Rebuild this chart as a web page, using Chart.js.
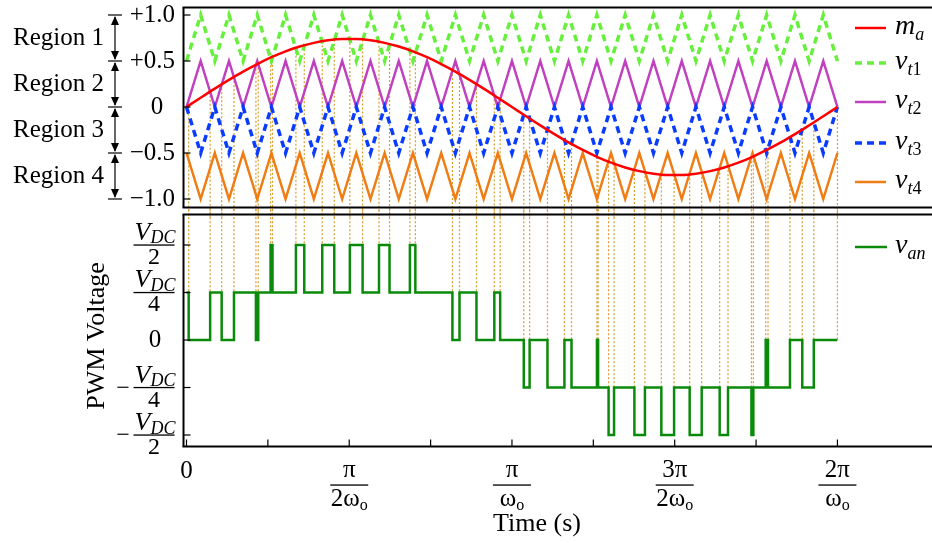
<!DOCTYPE html>
<html>
<head>
<meta charset="utf-8">
<script src="https://cdn.jsdelivr.net/npm/chart.js@4.4.0/dist/chart.umd.min.js"></script>
<style>
html, body { margin: 0; padding: 0; background: #fff; overflow: hidden; }
#wrap { position: relative; width: 932px; height: 543px; }
canvas { position: absolute; left: 0; top: 0; }
</style>
</head>
<body>
<div id="wrap">
  <canvas id="top" width="932" height="543"></canvas>
  <canvas id="bot" width="932" height="543"></canvas>
</div>
<script>
// Level-shifted carrier PWM: reference m_a, four carriers and the phase voltage v_an
// time axis in degrees of the fundamental (360 = 2π/ωo)

// carrier vertex instants (23 carrier cycles per fundamental period)
const carrierDeg = [0, 7.83, 15.65, 23.48, 31.30, 39.13, 46.96, 54.78, 62.61, 70.43, 78.26, 86.09,
  93.91, 101.74, 109.57, 117.39, 125.22, 133.04, 140.87, 148.70, 156.52, 164.35, 172.17, 180,
  187.83, 195.65, 203.48, 211.30, 219.13, 226.96, 234.78, 242.61, 250.43, 258.26, 266.09, 273.91,
  281.74, 289.57, 297.39, 305.22, 313.04, 320.87, 328.70, 336.52, 344.35, 352.17, 360];

// reference m_a read at the same instants
const ma = [0, 0.101, 0.200, 0.295, 0.385, 0.467, 0.541, 0.605, 0.657, 0.697, 0.725, 0.738,
  0.738, 0.725, 0.697, 0.657, 0.605, 0.541, 0.467, 0.385, 0.295, 0.200, 0.101, 0,
  -0.101, -0.200, -0.295, -0.385, -0.467, -0.541, -0.605, -0.657, -0.697, -0.725, -0.738,
  -0.738, -0.725, -0.697, -0.657, -0.605, -0.541, -0.467, -0.385, -0.295, -0.200, -0.101, 0];

// carrier levels at even / odd vertices
const vt1 = [0.5, 1.0];
const vt2 = [0, 0.5];
const vt3 = [0, -0.5];
const vt4 = [-0.5, -1.0];

// switching instants, output level after each (units of V_DC/4), and m_a at the crossing
const switchDeg = [0, 1.2, 13.07, 19.45, 26.26, 38.39, 39.67, 46.50, 47.56, 60.51, 65.13, 75.07,
  81.72, 90.34, 97.39, 106.46, 112.29, 123.54, 126.56, 147.07, 150.99, 160.36, 170.24, 173.47,
  186.53, 189.76, 199.64, 209.01, 212.93, 226.99, 227.64, 233.44, 236.46, 247.71, 253.54, 262.61,
  269.66, 278.28, 284.93, 294.87, 299.49, 312.44, 313.50, 320.33, 321.61, 333.74, 340.55, 346.93, 360];
const vanLevel = [1, 0, 1, 0, 1, 0, 1, 2, 1, 2, 1, 2, 1, 2, 1, 2, 1, 2, 1, 0, 1, 0, 1, 0,
  -1, 0, -1, 0, -1, 0, -1, -2, -1, -2, -1, -2, -1, -2, -1, -2, -1, -2, -1, 0, -1, 0, -1, 0, 0];
const switchTop = [null, 0.015, 0.167, 0.246, 0.327, 0.459, 0.472, 0.537, 0.546, 0.644, 0.671, 0.715,
  0.732, 0.740, 0.734, 0.710, 0.685, 0.616, 0.594, 0.402, 0.359, 0.248, 0.126, 0.084,
  -0.084, -0.126, -0.248, -0.359, -0.402, -0.541, -0.546, -0.594, -0.616, -0.684, -0.710, -0.734,
  -0.740, -0.732, -0.715, -0.671, -0.644, -0.546, -0.537, -0.472, -0.459, -0.327, -0.246, -0.167, 0];

// axis ticks
const topTickValues = [1, 0.5, 0, -0.5, -1];
const topTickLabels = ['+1.0', '+0.5', '0', '\u22120.5', '\u22121.0'];
const regionLabels = ['Region 1', 'Region 2', 'Region 3', 'Region 4'];
const vanTickValues = [2, 1, 0, -1, -2];
const vanTickDen = ['2', '4', null, '4', '2'];
const xTickValues = [0, 45, 90, 135, 180, 225, 270, 315, 360];
const xLabelValues = [90, 180, 270, 360];
const xLabelNum = ['\u03c0', '\u03c0', '3\u03c0', '2\u03c0'];
const xLabelDen = ['2\u03c9', '\u03c9', '2\u03c9', '\u03c9'];

const SERIF = '"Liberation Serif", "Times New Roman", serif';
const f = (size, italic) => (italic ? 'italic ' : '') + size + 'px ' + SERIF;

const X_MIN = -1.66, X_MAX = 412.3;

function drawRuns(ctx, parts, x, y, align) {
  let w = 0;
  parts.forEach(p => { ctx.font = p[1]; w += ctx.measureText(p[0]).width; });
  let cx = align === 'center' ? x - w / 2 : align === 'right' ? x - w : x;
  ctx.textAlign = 'left';
  parts.forEach(p => {
    ctx.font = p[1];
    ctx.fillText(p[0], cx, y + (p[2] || 0));
    cx += ctx.measureText(p[0]).width;
  });
}

function hline(ctx, x0, x1, y) { ctx.beginPath(); ctx.moveTo(x0, y); ctx.lineTo(x1, y); ctx.stroke(); }
function vline(ctx, x, y0, y1) { ctx.beginPath(); ctx.moveTo(x, y0); ctx.lineTo(x, y1); ctx.stroke(); }

function legendLine(ctx, x0, x1, y, color, width, dash) {
  ctx.save();
  ctx.strokeStyle = color; ctx.lineWidth = width; ctx.setLineDash(dash || []);
  hline(ctx, x0, x1, y);
  ctx.restore();
}

function arrowHead(ctx, x, tip, dir) {
  ctx.beginPath();
  ctx.moveTo(x, tip);
  ctx.lineTo(x - 4, tip - dir * 9);
  ctx.lineTo(x + 4, tip - dir * 9);
  ctx.closePath();
  ctx.fill();
}

const topDecor = {
  id: 'topDecor',
  afterDatasetsDraw(chart) {
    const { ctx, chartArea: a, scales: { y } } = chart;
    ctx.save();
    ctx.strokeStyle = '#000'; ctx.fillStyle = '#000';
    ctx.lineWidth = 2;
    hline(ctx, a.left - 1, a.right, a.top);
    hline(ctx, a.left - 1, a.right, a.bottom);
    vline(ctx, a.left, a.top, a.bottom);
    ctx.lineWidth = 1.2;
    topTickValues.forEach(v => { const py = y.getPixelForValue(v); hline(ctx, a.left, a.left + 7, py); });

    // tick labels
    ctx.textBaseline = 'middle';
    topTickValues.forEach((v, i) => {
      const py = y.getPixelForValue(v);
      ctx.font = f(25);
      if (v === 0) { ctx.textAlign = 'center'; ctx.fillText(topTickLabels[i], 157, py); }
      else { ctx.textAlign = 'right'; ctx.fillText(topTickLabels[i], 175, py); }
    });

    // region brackets
    const bx = 115;
    const b = topTickValues.map(v => y.getPixelForValue(v));
    ctx.lineWidth = 1.2;
    b.forEach(py => hline(ctx, bx - 7, bx + 7, py));
    for (let i = 0; i < 4; i++) {
      vline(ctx, bx, b[i] + 2, b[i + 1] - 2);
      arrowHead(ctx, bx, b[i] + 1, -1);
      arrowHead(ctx, bx, b[i + 1] - 1, 1);
      ctx.font = f(25); ctx.textAlign = 'right'; ctx.textBaseline = 'middle';
      ctx.fillText(regionLabels[i], 104, (b[i] + b[i + 1]) / 2);
    }

    // legend
    ctx.textBaseline = 'alphabetic';
    const lx0 = 855, lx1 = 886, tx = 895;
    const entries = [
      { y: 28, color: '#ff0000', width: 2.5, dash: null, sub: [['a', f(18, true), 6]], main: 'm' },
      { y: 63, color: '#66f03c', width: 3.5, dash: [7, 5], sub: [['t', f(18, true), 6], ['1', f(18), 6]], main: 'v' },
      { y: 102, color: '#c040c0', width: 2.5, dash: null, sub: [['t', f(18, true), 6], ['2', f(18), 6]], main: 'v' },
      { y: 143, color: '#0a3cff', width: 3.5, dash: [7, 5], sub: [['t', f(18, true), 6], ['3', f(18), 6]], main: 'v' },
      { y: 182, color: '#f07d14', width: 2.5, dash: null, sub: [['t', f(18, true), 6], ['4', f(18), 6]], main: 'v' }
    ];
    entries.forEach(e => {
      legendLine(ctx, lx0, lx1, e.y, e.color, e.width, e.dash);
      ctx.fillStyle = '#000';
      drawRuns(ctx, [[e.main, f(28, true), 0]].concat(e.sub), tx, e.y + 6, 'left');
    });
    ctx.restore();
  }
};

const botDecor = {
  id: 'botDecor',
  afterDatasetsDraw(chart) {
    const { ctx, chartArea: a, scales: { x, y } } = chart;
    ctx.save();
    ctx.strokeStyle = '#000'; ctx.fillStyle = '#000';
    ctx.lineWidth = 2;
    hline(ctx, a.left - 1, a.right, a.top);
    hline(ctx, a.left - 1, a.right, a.bottom);
    vline(ctx, a.left, a.top, a.bottom);
    ctx.lineWidth = 1.2;
    vanTickValues.forEach(v => hline(ctx, a.left, a.left + 7, y.getPixelForValue(v)));
    xTickValues.forEach(v => vline(ctx, x.getPixelForValue(v), a.bottom, a.bottom - 7));

    // y tick labels  (fractions of V_DC)
    const cx = 154;
    vanTickValues.forEach((v, i) => {
      const py = y.getPixelForValue(v);
      if (vanTickDen[i] === null) {
        ctx.font = f(25); ctx.textAlign = 'center'; ctx.textBaseline = 'middle';
        ctx.fillText('0', 155, py);
        return;
      }
      ctx.textBaseline = 'alphabetic';
      drawRuns(ctx, [['V', f(26, true), 0], ['DC', f(18, true), 3.5]], cx + 1, py - 5, 'center');
      ctx.fillRect(cx - 20.5, py - 0.6, 41, 1.3);
      drawRuns(ctx, [[vanTickDen[i], f(24), 0]], cx, py + 19, 'center');
      if (v < 0) drawRuns(ctx, [['\u2212', f(24), 0]], cx - 31, py + 7, 'center');
    });

    // x tick labels
    ctx.textBaseline = 'alphabetic';
    drawRuns(ctx, [['0', f(25), 0]], x.getPixelForValue(0), 478, 'center');
    xLabelValues.forEach((v, i) => {
      const px = x.getPixelForValue(v);
      drawRuns(ctx, [[xLabelNum[i], f(25), 0]], px, 477, 'center');
      ctx.fillRect(px - 19, 484.4, 38, 1.3);
      drawRuns(ctx, [[xLabelDen[i], f(25), 0], ['o', f(16), 4]], px, 506, 'center');
    });

    // axis titles
    ctx.font = f(26); ctx.textAlign = 'center'; ctx.textBaseline = 'alphabetic';
    ctx.fillText('Time (s)', 537, 531);
    ctx.save();
    ctx.translate(104, 336);
    ctx.rotate(-Math.PI / 2);
    ctx.fillText('PWM Voltage', 0, 0);
    ctx.restore();

    // legend
    legendLine(ctx, 855, 887, 247, '#0a8a0a', 2.5, null);
    ctx.fillStyle = '#000';
    drawRuns(ctx, [['v', f(28, true), 0], ['an', f(18, true), 6]], 895, 253, 'left');
    ctx.restore();
  }
};

function baseOptions(padTop, padBottom, yMin, yMax) {
  return {
    responsive: false,
    animation: false,
    devicePixelRatio: 1,
    layout: { padding: { left: 183.5, right: 0, top: padTop, bottom: padBottom } },
    plugins: { legend: { display: false }, tooltip: { enabled: false } },
    elements: { point: { radius: 0 }, line: { borderCapStyle: 'butt' } },
    scales: {
      x: { type: 'linear', min: X_MIN, max: X_MAX, display: false },
      y: { type: 'linear', min: yMin, max: yMax, display: false }
    }
  };
}

const DOT = 'rgba(214, 152, 36, 0.95)';

// vertical guide lines: top panel (from m_a down past the panel edge)
const guideTop = [];
const guideBot = [];
for (let i = 1; i < switchDeg.length; i++) {
  guideTop.push({ x: switchDeg[i], y: switchTop[i] }, { x: switchDeg[i], y: -1.2 }, { x: switchDeg[i], y: null });
  guideBot.push({ x: switchDeg[i], y: 2.75 }, { x: switchDeg[i], y: Math.max(vanLevel[i - 1], vanLevel[i]) }, { x: switchDeg[i], y: null });
}

const carrier = (band) => carrierDeg.map((t, k) => ({ x: t, y: band[k % 2] }));

new Chart(document.getElementById('top'), {
  type: 'line',
  data: {
    datasets: [
      { label: 'm_a', data: carrierDeg.map((t, k) => ({ x: t, y: ma[k] })), borderColor: '#ff0000', borderWidth: 2.5, cubicInterpolationMode: 'monotone', order: 0 },
      { label: 'v_t1', data: carrier(vt1), borderColor: '#66f03c', borderWidth: 3.5, borderDash: [7, 5], order: 2 },
      { label: 'v_t2', data: carrier(vt2), borderColor: '#c040c0', borderWidth: 2.5, order: 2 },
      { label: 'v_t3', data: carrier(vt3), borderColor: '#0a3cff', borderWidth: 3.5, borderDash: [7, 5], order: 1 },
      { label: 'v_t4', data: carrier(vt4), borderColor: '#f07d14', borderWidth: 2.5, order: 2 },
      { label: 'guide', data: guideTop, borderColor: DOT, borderWidth: 1.2, borderDash: [2, 2], spanGaps: false, clip: false, order: 9 }
    ]
  },
  options: baseOptions(7.5, 543 - 207.5, -1.0924, 1.0815),
  plugins: [topDecor]
});

new Chart(document.getElementById('bot'), {
  type: 'line',
  data: {
    datasets: [
      { label: 'v_an', data: switchDeg.map((t, i) => ({ x: t, y: vanLevel[i] })), borderColor: '#0a8a0a', borderWidth: 2.5, stepped: 'before', order: 0 },
      { label: 'guide', data: guideBot, borderColor: DOT, borderWidth: 1.2, borderDash: [2, 2], spanGaps: false, clip: false, order: 9 }
    ]
  },
  options: baseOptions(214.5, 543 - 446.5, -2.242, 2.642),
  plugins: [botDecor]
});
</script>
</body>
</html>
